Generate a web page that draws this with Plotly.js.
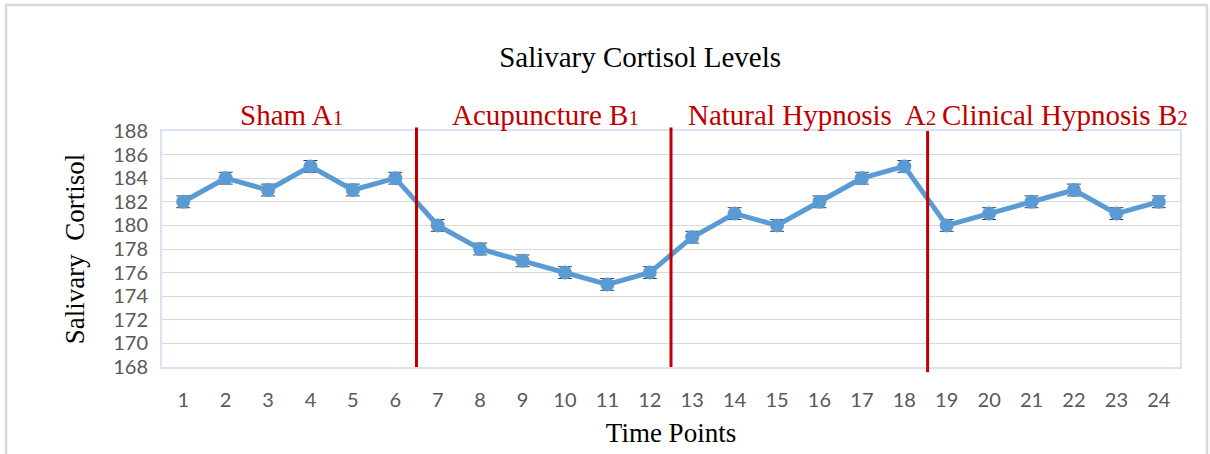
<!DOCTYPE html>
<html>
<head>
<meta charset="utf-8">
<script src="https://cdn.plot.ly/plotly-3.0.1.min.js"></script>
<style>
html,body{margin:0;padding:0;background:#fff;}
#chart{width:1210px;height:454px;}
</style>
</head>
<body>
<div id="chart"></div>
<script>
const timePoints = [1,2,3,4,5,6,7,8,9,10,11,12,13,14,15,16,17,18,19,20,21,22,23,24];
const cortisol = [182,184,183,185,183,184,180,178,177,176,175,176,179,181,180,182,184,185,180,181,182,183,181,182];
const errorSize = [0.5,0.5,0.5,0.5,0.5,0.5,0.5,0.5,0.5,0.5,0.5,0.5,0.5,0.5,0.5,0.5,0.5,0.5,0.5,0.5,0.5,0.5,0.5,0.5];
const phaseLabels = ['Sham A<span style="font-size:21px">1</span>',
  'Acupuncture B<span style="font-size:21px">1</span>',
  'Natural Hypnosis  A<span style="font-size:21px">2</span>',
  'Clinical Hypnosis B<span style="font-size:21px">2</span>'];
const phaseCenters = [3.55, 9.55, 15.82, 21.79];
const phaseBreaks = [6.5, 12.5, 18.55];
const yTicks = [168,170,172,174,176,178,180,182,184,186,188];

const red = '#C00000';
const serif = '"Liberation Serif", "Times New Roman", serif';
const sans = 'Lato, "Liberation Sans", sans-serif';

const trace = {
  x: timePoints, y: cortisol, type: 'scatter', mode: 'lines+markers',
  line: {color: '#5B9BD5', width: 5},
  marker: {color: '#5B9BD5', size: 14},
  error_y: {type: 'data', array: errorSize, visible: true, color: '#404040', thickness: 1, width: 7},
  hoverinfo: 'skip'
};

const shapes = phaseBreaks.map((b, i) => ({
  type: 'line', xref: 'x', yref: 'paper', x0: b, x1: b,
  y0: i === 2 ? -0.022 : 0, y1: i === 2 ? 1.0 : 1.015,
  line: {color: red, width: 3}
}));
// outer chart border
shapes.push({type: 'rect', xref: 'paper', yref: 'paper', x0: -0.1532, x1: 1.0265, y0: -0.45, y1: 1.534,
  line: {color: '#D9D9D9', width: 2.5}, layer: 'below'});

const annotations = phaseLabels.map((t, i) => ({
  text: t, x: phaseCenters[i], xref: 'x', y: 1.068, yref: 'paper', yanchor: 'middle',
  showarrow: false, font: {family: serif, size: 29, color: red}
}));

const layout = {
  width: 1210, height: 454,
  margin: {l: 162, r: 30, t: 131, b: 87},
  paper_bgcolor: '#fff', plot_bgcolor: '#fff',
  showlegend: false,
  title: {text: 'Salivary Cortisol Levels', font: {family: serif, size: 29, color: '#000'},
    x: 0.529, xanchor: 'center', y: 0.875, yanchor: 'middle'},
  xaxis: {
    range: [0.5, 24.5], tickmode: 'array', tickvals: timePoints, ticktext: timePoints.map(String),
    showgrid: false, zeroline: false, showline: true, linecolor: '#DAE3F3', linewidth: 2, mirror: true,
    ticks: '', ticklabelstandoff: 14,
    tickfont: {family: sans, size: 20, color: '#595959'},
    title: {text: 'Time Points', font: {family: serif, size: 27, color: '#000'}, standoff: 13}
  },
  yaxis: {
    range: [168, 188], tickmode: 'array', tickvals: yTicks,
    showgrid: true, gridcolor: '#D9D9D9', gridwidth: 1, zeroline: false,
    showline: true, linecolor: '#DAE3F3', linewidth: 2, mirror: true,
    ticks: '', ticklabelstandoff: 8,
    tickfont: {family: sans, size: 20, color: '#595959'},
    title: {text: 'Salivary  Cortisol', font: {family: serif, size: 27, color: '#000'}, standoff: 21}
  },
  shapes: shapes,
  annotations: annotations
};

Plotly.newPlot('chart', [trace], layout, {displayModeBar: false, staticPlot: true});
</script>
</body>
</html>
